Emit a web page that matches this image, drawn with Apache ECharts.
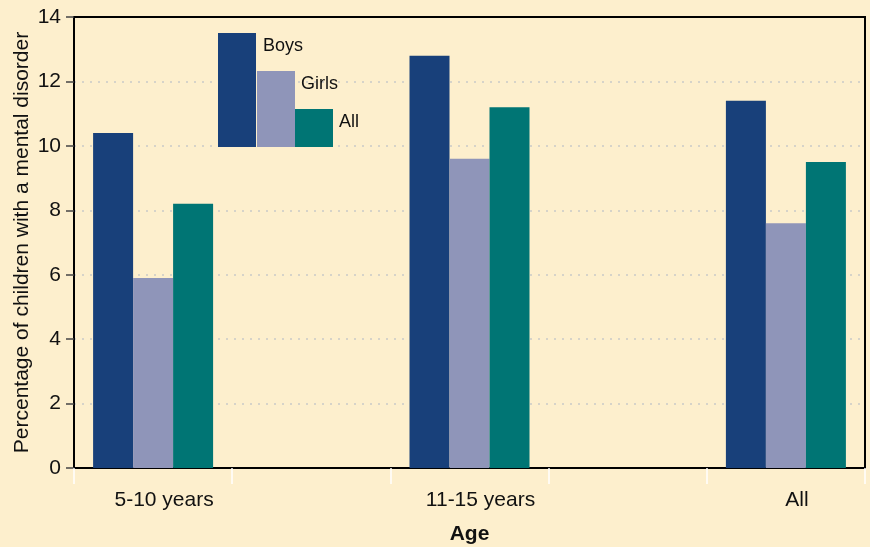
<!DOCTYPE html>
<html>
<head>
<meta charset="utf-8">
<script src="https://cdn.jsdelivr.net/npm/echarts@6/dist/echarts.min.js"></script>
<style>
  html, body { margin: 0; padding: 0; background: #fdefcd; }
  #chart { width: 870px; height: 547px; }
</style>
</head>
<body>
<div id="chart"></div>
<script>
const categories = ['5-10 years', '11-15 years', 'All']
const seriesNames = ['Boys', 'Girls', 'All']
const boys = [10.4, 12.8, 11.4]
const girls = [5.9, 9.6, 7.6]
const all = [8.2, 11.2, 9.5]
const yTicks = [0, 2, 4, 6, 8, 10, 12, 14]
const colors = ['#18407a', '#8f95b9', '#007574']

// each group sits in every other slot of the axis, with an empty slot between
const slots = []
categories.forEach((c, i) => {
  slots.push(c)
  if (i < categories.length - 1) slots.push('')
})
const spread = arr => {
  const out = []
  arr.forEach((v, i) => {
    out.push(v)
    if (i < arr.length - 1) out.push('-')
  })
  return out
}

const chart = echarts.init(document.getElementById('chart'))

// inset legend: stepped blocks with labels beside their tops
const legendGraphic = []
const legendX = 218, legendW = 38, legendBottom = 147
const legendTops = [33, 71, 109]
seriesNames.forEach((n, i) => {
  legendGraphic.push({
    type: 'rect',
    shape: { x: legendX + i * legendW + (i > 0 ? 1 : 0), y: legendTops[i], width: legendW, height: legendBottom - legendTops[i] },
    style: { fill: colors[i] },
    z: 10
  })
  legendGraphic.push({
    type: 'text',
    x: legendX + (i + 1) * legendW + 7,
    y: legendTops[i] + 13,
    style: { text: n, fill: '#111', font: '18px "Liberation Sans", Arial, sans-serif', verticalAlign: 'middle' },
    z: 10
  })
})

const font = '"Liberation Sans", Arial'

chart.setOption({
  backgroundColor: '#fdefcd',
  animation: false,
  grid: {
    left: 74,
    right: 5,
    top: 17,
    bottom: 79,
    outerBoundsMode: 'none',
    show: true,
    borderColor: '#000',
    borderWidth: 2,
    backgroundColor: 'transparent'
  },
  xAxis: {
    type: 'category',
    data: slots,
    boundaryGap: true,
    name: 'Age',
    nameLocation: 'middle',
    nameGap: 56,
    nameMoveOverlap: false,
    nameTextStyle: { fontFamily: font, fontSize: 21, fontWeight: 'bold', color: '#111' },
    axisLine: { lineStyle: { color: '#000', width: 2 } },
    axisTick: { show: true, interval: 0, length: 16, lineStyle: { color: '#fff', width: 1.5 } },
    axisLabel: {
      interval: 0,
      margin: 22,
      padding: [0, 0, 0, 22],
      fontFamily: font,
      fontSize: 21,
      color: '#111'
    },
    splitLine: { show: false }
  },
  yAxis: {
    type: 'value',
    min: yTicks[0],
    max: yTicks[yTicks.length - 1],
    interval: 2,
    name: 'Percentage of children with a mental disorder',
    nameLocation: 'middle',
    nameGap: 41,
    nameMoveOverlap: false,
    nameTextStyle: { fontFamily: font, fontSize: 21, color: '#111' },
    axisLine: { show: true, lineStyle: { color: '#000', width: 2 } },
    axisTick: { show: true, length: 8, lineStyle: { color: '#444', width: 1.5 } },
    axisLabel: { margin: 13, fontFamily: font, fontSize: 21, color: '#111' },
    splitLine: {
      show: true,
      showMinLine: false,
      showMaxLine: false,
      lineStyle: { color: '#d6d3c9', type: [2, 6], width: 2 }
    }
  },
  series: [boys, girls, all].map((d, i) => ({
    name: seriesNames[i],
    type: 'bar',
    data: spread(d),
    barWidth: 40,
    barGap: '0%',
    itemStyle: { color: colors[i] }
  })),
  graphic: legendGraphic
})
</script>
</body>
</html>
